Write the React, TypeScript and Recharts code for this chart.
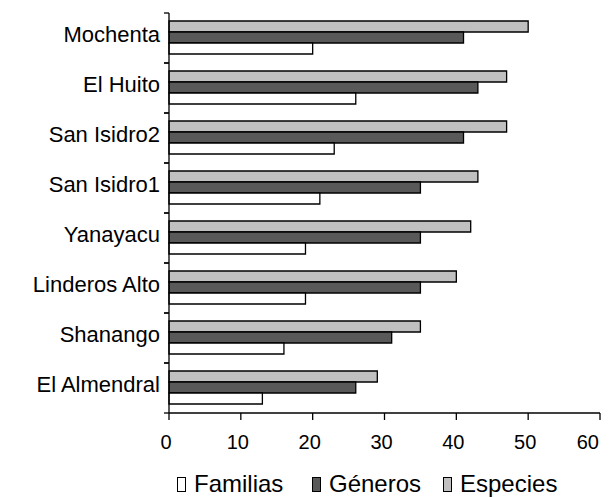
import React from 'react';
import { BarChart, Bar, XAxis, YAxis, Legend } from 'recharts';

const sitios = ['Mochenta', 'El Huito', 'San Isidro2', 'San Isidro1', 'Yanayacu', 'Linderos Alto', 'Shanango', 'El Almendral'];
const especies = [50, 47, 47, 43, 42, 40, 35, 29];
const generos = [41, 43, 41, 35, 35, 35, 31, 26];
const familias = [20, 26, 23, 21, 19, 19, 16, 13];
const xTicks = [0, 10, 20, 30, 40, 50, 60];

const data = sitios.map((sitio, i) => ({
  sitio,
  especies: especies[i],
  generos: generos[i],
  familias: familias[i],
}));

const FONT = '"Liberation Sans", Arial, Helvetica, sans-serif';
const HALF_BAND = 25;

const legendItems = [
  { label: 'Familias', color: '#ffffff', left: 0 },
  { label: 'Géneros', color: '#595959', left: 135 },
  { label: 'Especies', color: '#c0c0c0', left: 266 },
];

function SitioTick(props: any) {
  const { x, y, payload } = props;
  const axisX = x + 9;
  return (
    <g>
      <line x1={axisX - 5} x2={axisX} y1={y - HALF_BAND} y2={y - HALF_BAND} stroke="#000" strokeWidth={1.3} />
      <line x1={axisX - 5} x2={axisX} y1={y + HALF_BAND} y2={y + HALF_BAND} stroke="#000" strokeWidth={1.3} />
      <text x={x} y={y + 3.7} textAnchor="end" fontSize={22} fontFamily={FONT} fill="#000">
        {payload.value}
      </text>
    </g>
  );
}

function ValorTick(props: any) {
  const { x, y, payload, index } = props;
  // the right edge of the page crops a little, keep the last label inside it
  const last = index === xTicks.length - 1;
  return (
    <text
      x={last ? x - 1 : x - 3}
      y={y + 14.2}
      textAnchor={last ? 'end' : 'middle'}
      fontSize={20}
      fontFamily={FONT}
      fill="#000"
    >
      {payload.value}
    </text>
  );
}

function Leyenda() {
  return (
    <div style={{ position: 'relative', width: 400, height: 24, fontFamily: FONT, fontSize: 24, lineHeight: '24px', color: '#000' }}>
      {legendItems.map((it) => (
        <div key={it.label} style={{ position: 'absolute', left: it.left, top: 0, whiteSpace: 'nowrap' }}>
          <span
            style={{
              display: 'inline-block',
              width: 7,
              height: 13,
              border: '1px solid #000',
              background: it.color,
              marginRight: 8,
              verticalAlign: 'baseline',
            }}
          />
          {it.label}
        </div>
      ))}
    </div>
  );
}

export default function App() {
  return (
    <>
      <style>{'html, body { overflow: hidden; }'}</style>
      <BarChart
        width={601}
        height={489}
        data={data}
        layout="vertical"
        margin={{ top: 5, right: 9, bottom: 44, left: 0 }}
        barCategoryGap={8}
        barGap={0}
      >
        <XAxis
          type="number"
          domain={[0, 60]}
          ticks={xTicks}
          interval={0}
          tickSize={7}
          tickMargin={15}
          height={40}
          axisLine={{ stroke: '#000', strokeWidth: 1.3 }}
          tickLine={{ stroke: '#000', strokeWidth: 1.3 }}
          tick={<ValorTick />}
        />
        <YAxis
          type="category"
          dataKey="sitio"
          width={161}
          tickSize={5}
          tickMargin={4}
          interval={0}
          tickLine={false}
          axisLine={{ stroke: '#000', strokeWidth: 1.3 }}
          tick={<SitioTick />}
        />
        <Legend
          layout="horizontal"
          verticalAlign="middle"
          align="center"
          wrapperStyle={{ left: 169, top: 464, width: 400 }}
          content={() => <Leyenda />}
        />
        <Bar dataKey="especies" fill="#c0c0c0" stroke="#000" strokeWidth={1.3} isAnimationActive={false} />
        <Bar dataKey="generos" fill="#595959" stroke="#000" strokeWidth={1.3} isAnimationActive={false} />
        <Bar dataKey="familias" fill="#ffffff" stroke="#000" strokeWidth={1.3} isAnimationActive={false} />
      </BarChart>
    </>
  );
}
